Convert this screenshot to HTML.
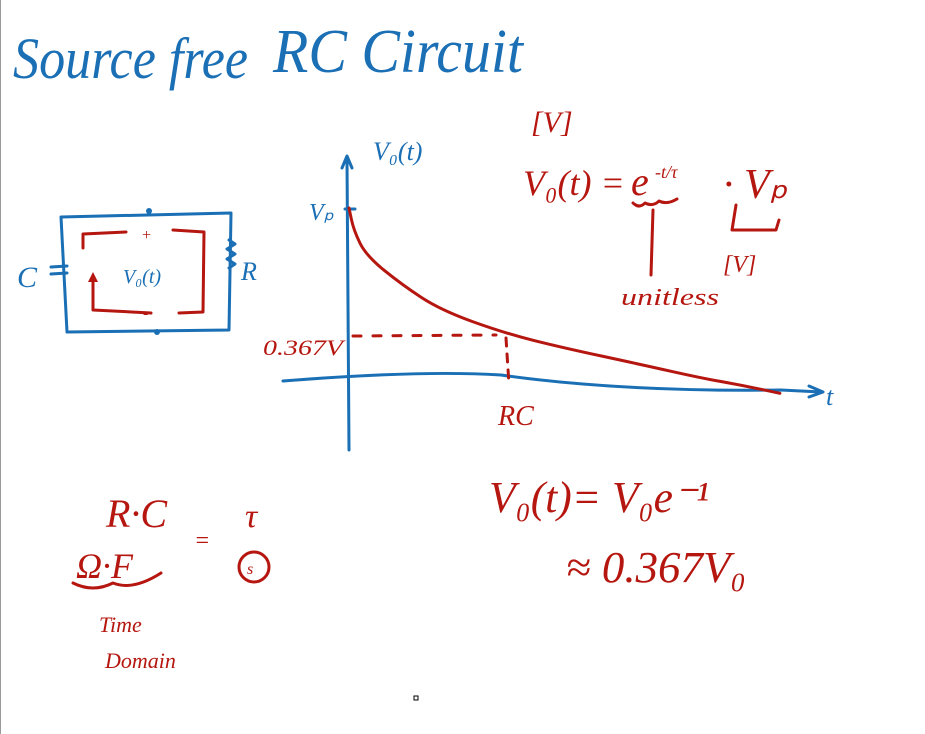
<!DOCTYPE html>
<html><head><meta charset="utf-8">
<style>
html,body{margin:0;padding:0;background:#fff;}
#wrap{position:relative;width:925px;height:734px;overflow:hidden;background:#fff;border-left:1px solid #9a9a9a;box-sizing:border-box;}
svg{position:absolute;left:0;top:0;}
.b{fill:none;stroke:#1a6fb5;stroke-width:3;stroke-linecap:round;stroke-linejoin:round;}
.r{fill:none;stroke:#b5160f;stroke-width:3;stroke-linecap:round;stroke-linejoin:round;}
.tb{fill:#1a6fb5;font-family:"Liberation Serif",serif;font-style:italic;}
.tr{fill:#b5160f;font-family:"Liberation Serif",serif;font-style:italic;}
</style></head>
<body>
<div id="wrap">
<svg id="svg" width="925" height="734">
<text class="tb" x="12" y="78" font-size="58" textLength="235" lengthAdjust="spacingAndGlyphs">Source free</text>
<text class="tb" x="272" y="72" font-size="62" textLength="250" lengthAdjust="spacingAndGlyphs">RC Circuit</text>

<g>
<path class="b" d="M60 217 L230 213 L228 330 L66 332 Z"/>
<circle cx="148" cy="211" r="3" fill="#1a6fb5"/>
<circle cx="156" cy="332" r="3" fill="#1a6fb5"/>
<path class="b" d="M50 267 L66 266 M50 274 L66 273"/>
<path class="b" d="M228 240 l6 4 -8 5 8 5 -8 5 8 5 -6 4"/>
<text class="tb" x="16" y="287" font-size="30">C</text>
<text class="tb" x="240" y="280" font-size="26">R</text>
<text class="tb" x="122" y="283" font-size="20">V₀(t)</text>
<path class="r" d="M82 248 L82 234 L125 232 M172 230 L203 232 L202 312 L178 313 M150 313 L92 310 L92 280"/>
<path d="M92 272 l-5 10 h10 z" fill="#b5160f"/>
<text class="tr" x="140" y="240" font-size="16">+</text>
<text class="tr" x="142" y="318" font-size="16">-</text>
</g>

<g id="chart">
<path class="b" d="M348 450 L346 160 M341 168 L346 156 L351 168"/>
<path class="b" d="M282 381 Q420 370 500 375 Q620 392 780 390 L820 392 M808 386 L822 392 L808 397"/>
<text class="tb" x="372" y="160" font-size="26">V₀(t)</text>
<text class="tb" x="825" y="405" font-size="26">t</text>
<text class="tb" x="308" y="220" font-size="24">Vₚ</text>
<path class="b" d="M344 209 L354 209"/>
<text class="tr" x="262" y="355" font-size="22" textLength="80" lengthAdjust="spacingAndGlyphs">0.367V</text>
<text class="tr" x="497" y="425" font-size="28">RC</text>
<path class="r" stroke-dasharray="8 12" stroke-width="2.5" d="M352 336 L495 335"/>
<path class="r" stroke-dasharray="8 8" stroke-width="2.5" d="M505 338 L508 385"/>
</g>

<g>
<text class="tr" x="530" y="132" font-size="30">[V]</text>
<text class="tr" x="522" y="195" font-size="36">V₀(t) =</text>
<text class="tr" x="630" y="195" font-size="40">e</text>
<text class="tr" x="654" y="178" font-size="18">-t/τ</text>
<text class="tr" x="722" y="198" font-size="42">· Vₚ</text>
<path class="r" stroke-width="2.5" d="M632 203 q6 6 12 0 q8 4 14 -2 q8 4 18 -2 M652 210 L650 275 M735 205 L731 230 L775 230 L778 220"/>
<text class="tr" x="722" y="272" font-size="24">[V]</text>
<text class="tr" x="620" y="305" font-size="24" textLength="98" lengthAdjust="spacingAndGlyphs">unitless</text>
</g>

<g>
<text class="tr" x="105" y="527" font-size="40">R·C</text>
<text class="tr" x="193" y="548" font-size="24">=</text>
<text class="tr" x="244" y="527" font-size="34">τ</text>
<text class="tr" x="75" y="578" font-size="36">Ω·F</text>
<circle cx="253" cy="567" r="15" class="r"/>
<text class="tr" x="246" y="574" font-size="16">s</text>
<path class="r" stroke-width="2.5" d="M72 583 q20 10 40 0 q20 8 48 -10"/>
<text class="tr" x="98" y="632" font-size="22">Time</text>
<text class="tr" x="104" y="668" font-size="22">Domain</text>
</g>

<g>
<text class="tr" x="488" y="512" font-size="44" textLength="220" lengthAdjust="spacingAndGlyphs">V₀(t)= V₀e⁻¹</text>
<text class="tr" x="565" y="582" font-size="44" textLength="180" lengthAdjust="spacingAndGlyphs">≈ 0.367V₀</text>
</g>
<rect x="413" y="696" width="4" height="4" fill="none" stroke="#000" stroke-width="1"/>
</svg>
</div>
<script>
// decay curve data: time in units of RC, voltage as fraction of Vp
const timeVals = [0, 0.03, 0.11, 0.34, 0.59, 1.0, 1.37, 1.88, 2.27, 2.52, 2.78];
const voltVals = [1.0, 0.87, 0.72, 0.55, 0.40, 0.265, 0.18, 0.08, 0.0, -0.04, -0.09];
function xScale(t){return 348 + t*155;}
function yScale(v){return 378 - v*170;}
const svg=document.getElementById('svg');
const chart=document.getElementById('chart');
let d='';
for(let i=0;i<timeVals.length;i++){
  const x=xScale(timeVals[i]), y=yScale(voltVals[i]);
  if(i===0) d+='M'+x+' '+y;
  else {
    const px=xScale(timeVals[i-1]), py=yScale(voltVals[i-1]);
    d+=' Q'+px+' '+py+' '+((px+x)/2)+' '+((py+y)/2);
  }
}
d+=' L'+xScale(timeVals[timeVals.length-1])+' '+yScale(voltVals[voltVals.length-1]);
const p=document.createElementNS('http://www.w3.org/2000/svg','path');
p.setAttribute('d',d);
p.setAttribute('class','r');


chart.appendChild(p);
</script>
</body></html>
